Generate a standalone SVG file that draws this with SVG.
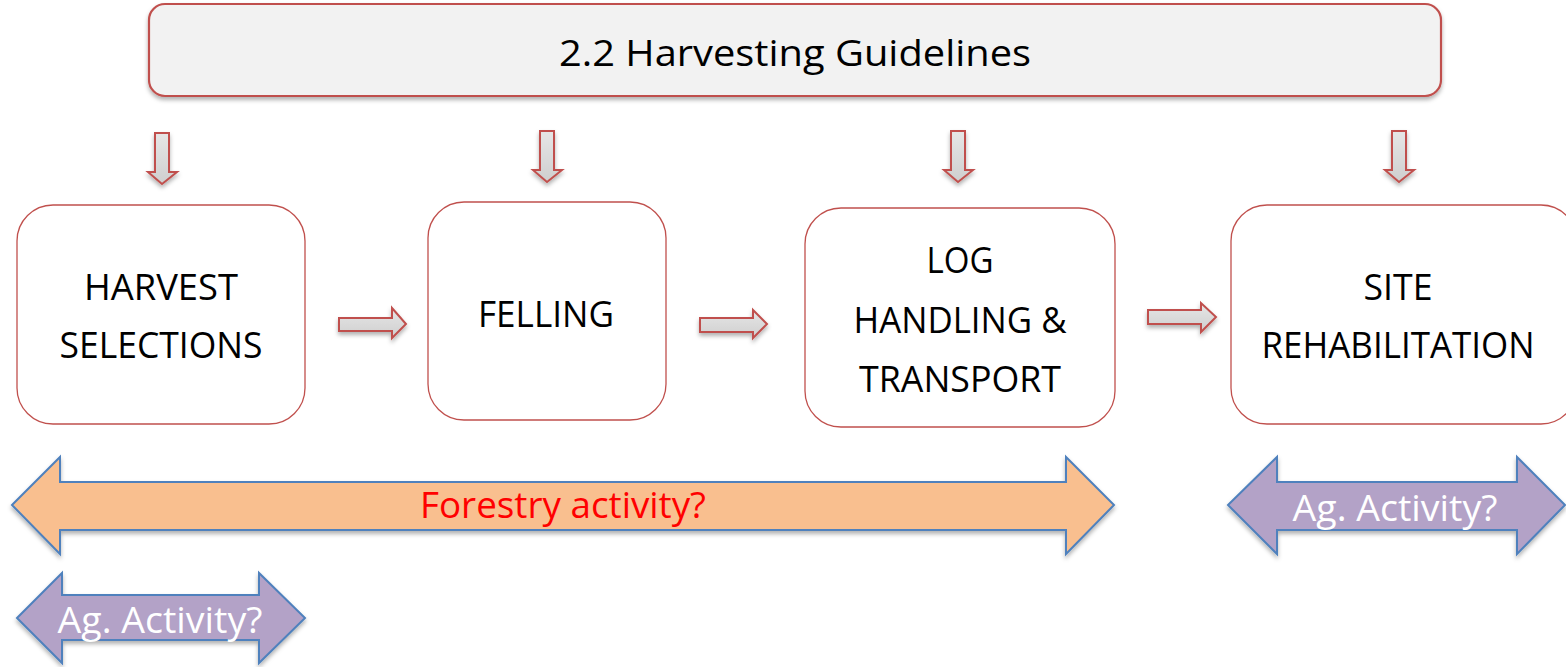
<svg xmlns="http://www.w3.org/2000/svg" width="1566" height="667" viewBox="0 0 1566 667">
<defs>
<filter id="sh" x="-20%" y="-20%" width="140%" height="160%"><feDropShadow dx="0" dy="3" stdDeviation="2" flood-color="#000" flood-opacity="0.3"/></filter>
<linearGradient id="ga" x1="0" y1="0" x2="0" y2="1"><stop offset="0" stop-color="#e6e6e6"/><stop offset="1" stop-color="#cfcfcf"/></linearGradient>
</defs>
<style>
.box{fill:#fff;stroke:#c0504d;stroke-width:1.3}
.top{fill:#f2f2f2;stroke:#c0504d;stroke-width:2.2}
.arr{fill:url(#ga);stroke:#c0504d;stroke-width:2;stroke-linejoin:miter}
.t{font-family:"Open Sans","Liberation Sans",Arial,sans-serif;font-size:37px;fill:#000;text-anchor:middle}
.big{fill:#f9bf8f;stroke:#4f81bd;stroke-width:2}
.ag{fill:#b3a2c7;stroke:#4f81bd;stroke-width:2}
</style>
<g id="title">
<rect class="top" x="149" y="4" width="1292" height="92" rx="16" filter="url(#sh)"/>
<text class="t" x="795" y="66" font-size="43" textLength="472" lengthAdjust="spacingAndGlyphs">2.2 Harvesting Guidelines</text>
</g>
<g id="connectors">
<path class="arr" filter="url(#sh)" d="M155,133 H169 V172 H177 L162,184 L148,172 H155 Z"/>
<path class="arr" filter="url(#sh)" d="M540,131 H554 V170 H562 L547,182 L533,170 H540 Z"/>
<path class="arr" filter="url(#sh)" d="M951,131 H965 V170 H973 L958,182 L944,170 H951 Z"/>
<path class="arr" filter="url(#sh)" d="M1392,131 H1406 V170 H1414 L1399,182 L1385,170 H1392 Z"/>
<path class="arr" filter="url(#sh)" d="M339,318 H392 V308 L406,324 L392,338 V331 H339 Z"/>
<path class="arr" filter="url(#sh)" d="M700,318 H753 V310 L767,324 L753,338 V332 H700 Z"/>
<path class="arr" filter="url(#sh)" d="M1148,310 H1201 V303 L1216,317 L1201,332 V324 H1148 Z"/>
</g>
<g id="harvest">
<rect class="box" x="17" y="205" width="288" height="219" rx="36"/>
<text class="t" x="161" y="300" textLength="154" lengthAdjust="spacingAndGlyphs">HARVEST</text>
<text class="t" x="161" y="358" textLength="203" lengthAdjust="spacingAndGlyphs">SELECTIONS</text>
</g>
<g id="felling">
<rect class="box" x="428" y="202" width="238" height="218" rx="36"/>
<text class="t" x="546" y="327" textLength="136" lengthAdjust="spacingAndGlyphs">FELLING</text>
</g>
<g id="log">
<rect class="box" x="805" y="208" width="310" height="219" rx="36"/>
<text class="t" x="960" y="273" textLength="67" lengthAdjust="spacingAndGlyphs">LOG</text>
<text class="t" x="960" y="333" textLength="213" lengthAdjust="spacingAndGlyphs">HANDLING &amp;</text>
<text class="t" x="960" y="392" textLength="202" lengthAdjust="spacingAndGlyphs">TRANSPORT</text>
</g>
<g id="site">
<rect class="box" x="1231" y="205" width="346" height="219" rx="36"/>
<text class="t" x="1398" y="300" textLength="69" lengthAdjust="spacingAndGlyphs">SITE</text>
<text class="t" x="1398" y="358" textLength="273" lengthAdjust="spacingAndGlyphs">REHABILITATION</text>
</g>
<g id="forestry">
<path class="big" filter="url(#sh)" d="M12,505 L60,457 V482 H1066 V457 L1114,505 L1066,554 V530 H60 V554 Z"/>
<text class="t" x="563" y="518" font-size="35" style="fill:#ff0000" textLength="286" lengthAdjust="spacingAndGlyphs">Forestry activity?</text>
</g>
<g id="ag-left">
<path class="ag" filter="url(#sh)" d="M17,618 L62,573 V595 H259 V573 L305,618 L259,663 V640 H62 V663 Z"/>
<text class="t" x="160" y="633" font-size="36" style="fill:#fff" textLength="205" lengthAdjust="spacingAndGlyphs">Ag. Activity?</text>
</g>
<g id="ag-right">
<path class="ag" filter="url(#sh)" d="M1228,505 L1277,457 V482 H1517 V457 L1565,505 L1517,554 V530 H1277 V554 Z"/>
<text class="t" x="1395" y="521" font-size="36" style="fill:#fff" textLength="205" lengthAdjust="spacingAndGlyphs">Ag. Activity?</text>
</g>
</svg>
